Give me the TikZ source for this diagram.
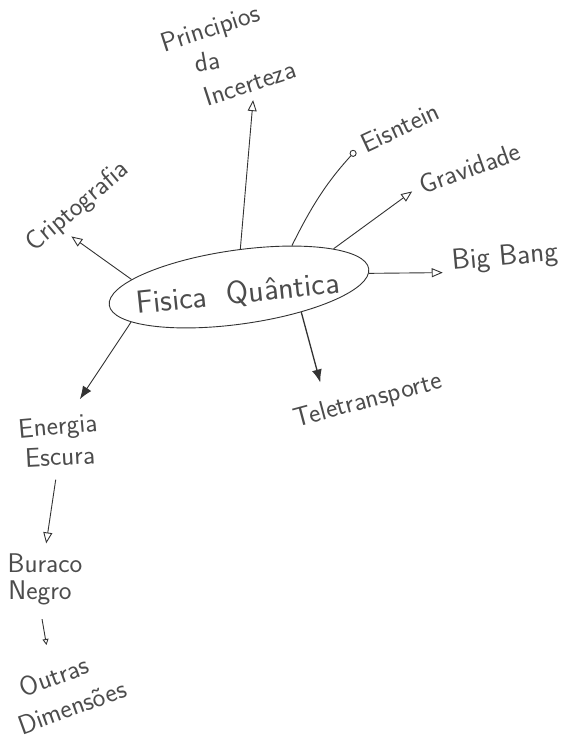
\documentclass[tikz,border=0pt]{standalone}
\usepackage{fontspec}
\usepackage{tikz}
\usetikzlibrary{arrows.meta,shapes.geometric}

\begin{document}
\begin{tikzpicture}[x=1pt, y=-1pt, every node/.style={font=\sffamily\fontsize{27}{30}\selectfont, text=black!70, inner sep=2pt}, lin/.style={black!80, line width=0.9pt}, opentip/.style={lin, -{Triangle[open, length=11pt, width=9pt]}}, fulltip/.style={lin, -{Latex[length=13pt, width=10pt]}}]
	\useasboundingbox[fill=white] (0,0) rectangle (572,743);
	\node[draw=black!80, line width=0.9pt, ellipse, minimum width=262pt, minimum height=74pt, rotate=8] (fq) at (239,287) {};
	\node[rotate=6, font=\sffamily\fontsize{32}{36}\selectfont] (fqtext) at (238,294) {Fisica\ \ Quântica};
	\node[rotate=40] (cripto) at (78,207) {Criptografia};
	\node[rotate=18] (princ) at (211,30) {Principios};
	\node[rotate=10] (da) at (207,61) {da};
	\node[rotate=18] (incert) at (250,83) {Incerteza};
	\node[rotate=25] (eins) at (400,127) {Eisntein};
	\node[rotate=20] (grav) at (470,168) {Gravidade};
	\node[rotate=5, font=\sffamily\fontsize{29}{32}\selectfont] (bigbang) at (505,258) {Big Bang};
	\node[rotate=15] (tele) at (368,401) {Teletransporte};
	\node[rotate=5] (energia) at (58,428) {Energia};
	\node[rotate=3] (escura) at (60,456) {Escura};
	\node (buraco) at (45,563) {Buraco};
	\node (negro) at (40,593) {Negro};
	\node[rotate=20] (outras) at (54,676) {Outras};
	\node[rotate=20] (dimens) at (72,707) {Dimensões};
	\draw[opentip, shorten >=4pt] (fq.168) -- (cripto.-150);
	\draw[opentip, shorten >=6pt] (fq.80) -- (incert.south);
	\draw[lin, -{Circle[open, length=7pt]}, shorten >=7pt] (fq.30) to[bend left=8] (eins.west);
	\draw[opentip, shorten >=8pt] (fq.14) -- (grav.west);
	\draw[opentip, shorten >=8pt] (fq.-2) -- (bigbang.190);
	\draw[fulltip, line width=1.3pt, shorten >=16pt] (fq.-30) -- (tele.161);
	\draw[fulltip, shorten >=16pt] (fq.190) -- (energia.45);
	\draw[opentip, shorten <=12pt, shorten >=8pt] (escura.-105) -- (buraco.north);
	\draw[lin, -{Triangle[open, length=6pt, width=6pt]}, shorten <=12pt, shorten >=20pt] (negro.south) -- (outras.north);
\end{tikzpicture}
\end{document}
